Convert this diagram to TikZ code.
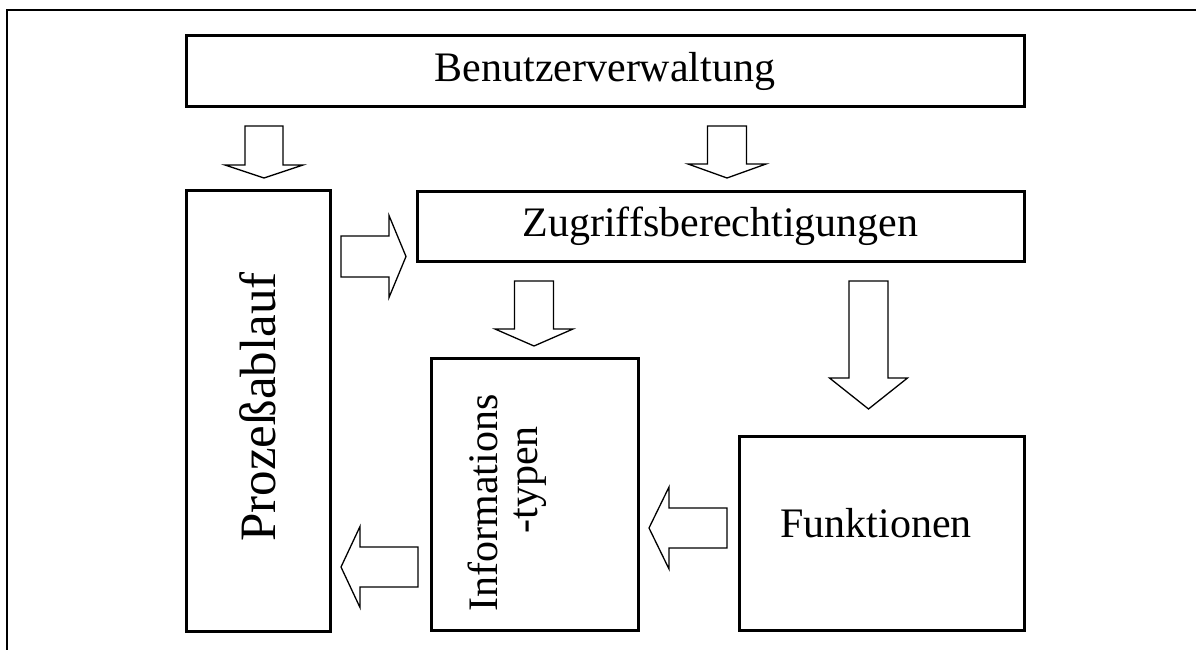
\documentclass[tikz,border=0pt]{standalone}
\usepackage{fontspec}
\setmainfont{Liberation Serif}
\usetikzlibrary{calc}

% block arrow: tail point, direction angle, length, shaft half width, head half width, head length
\newcommand\blockarrow[6]{%
  \draw[arrowline,shift={(#1)},rotate=#2]
    (0,#4) -- ({#3-#6},#4) -- ({#3-#6},#5) -- (#3,0)
    -- ({#3-#6},-#5) -- ({#3-#6},-#4) -- (0,-#4) -- cycle;}

\begin{document}
\begin{tikzpicture}[x=1pt,y=-1pt,
  box/.style={draw=black,line width=3pt,fill=white,inner sep=0pt,outer sep=0pt,
    rectangle,font=\fontsize{42}{46}\selectfont},
  lbl/.style={inner sep=0pt,outer sep=0pt,font=\fontsize{42}{46}\selectfont},
  arrowline/.style={draw=black,line width=1.3pt,fill=white,line join=miter},
  frameline/.style={draw=black,line width=2pt}]
\useasboundingbox (0,0) rectangle (1196,650);

% outer frame
\coordinate (fbl) at (7,652);
\coordinate (ftl) at (7,10);
\coordinate (ftr) at (1198,10);
\draw[frameline] (fbl) -- (ftl) -- (ftr);

% boxes
\node[box,minimum width=838pt,minimum height=71pt] (benutzer) at (605,71.5) {Benutzerverwaltung};
\node[box,minimum width=144pt,minimum height=441pt] (prozess) at (258,410.5) {};
\node[box,minimum width=607pt,minimum height=70pt] (zugriff) at (720.5,226) {Zugriffsberechtigungen};
\node[box,minimum width=207pt,minimum height=272pt] (info) at (534.5,494) {};
\node[box,minimum width=285pt,minimum height=194pt] (funktionen) at (881.5,533) {};

% labels
\node[lbl,font=\fontsize{51}{55}\selectfont] (prozesstext) at (258,407) {\rotatebox{90}{Prozeßablauf}};
\node[lbl] (infotext) at (508,503) {\rotatebox{90}{\begin{tabular}{@{}c@{}}Informations\\[-6pt]\hspace*{46pt}-typen\end{tabular}}};
\node[lbl,anchor=base] (funktext) at (876,537) {Funktionen};

% arrow tails
\coordinate (a1) at (264,126);
\coordinate (a2) at (727,126);
\coordinate (a3) at (341,256.5);
\coordinate (a4) at (534,281);
\coordinate (a5) at (868.5,281);
\coordinate (a6) at (727,528);
\coordinate (a7) at (418,567);

% block arrows
\blockarrow{a1}{-90}{52}{19}{39}{13}
\blockarrow{a2}{-90}{52}{19.5}{39}{14}
\blockarrow{a3}{0}{65}{20.5}{41}{17}
\blockarrow{a4}{-90}{65}{19.5}{39}{17}
\blockarrow{a5}{-90}{128}{19.5}{39}{31}
\blockarrow{a6}{180}{78}{20}{41}{20}
\blockarrow{a7}{180}{77}{20}{40.5}{19}
\end{tikzpicture}
\end{document}
